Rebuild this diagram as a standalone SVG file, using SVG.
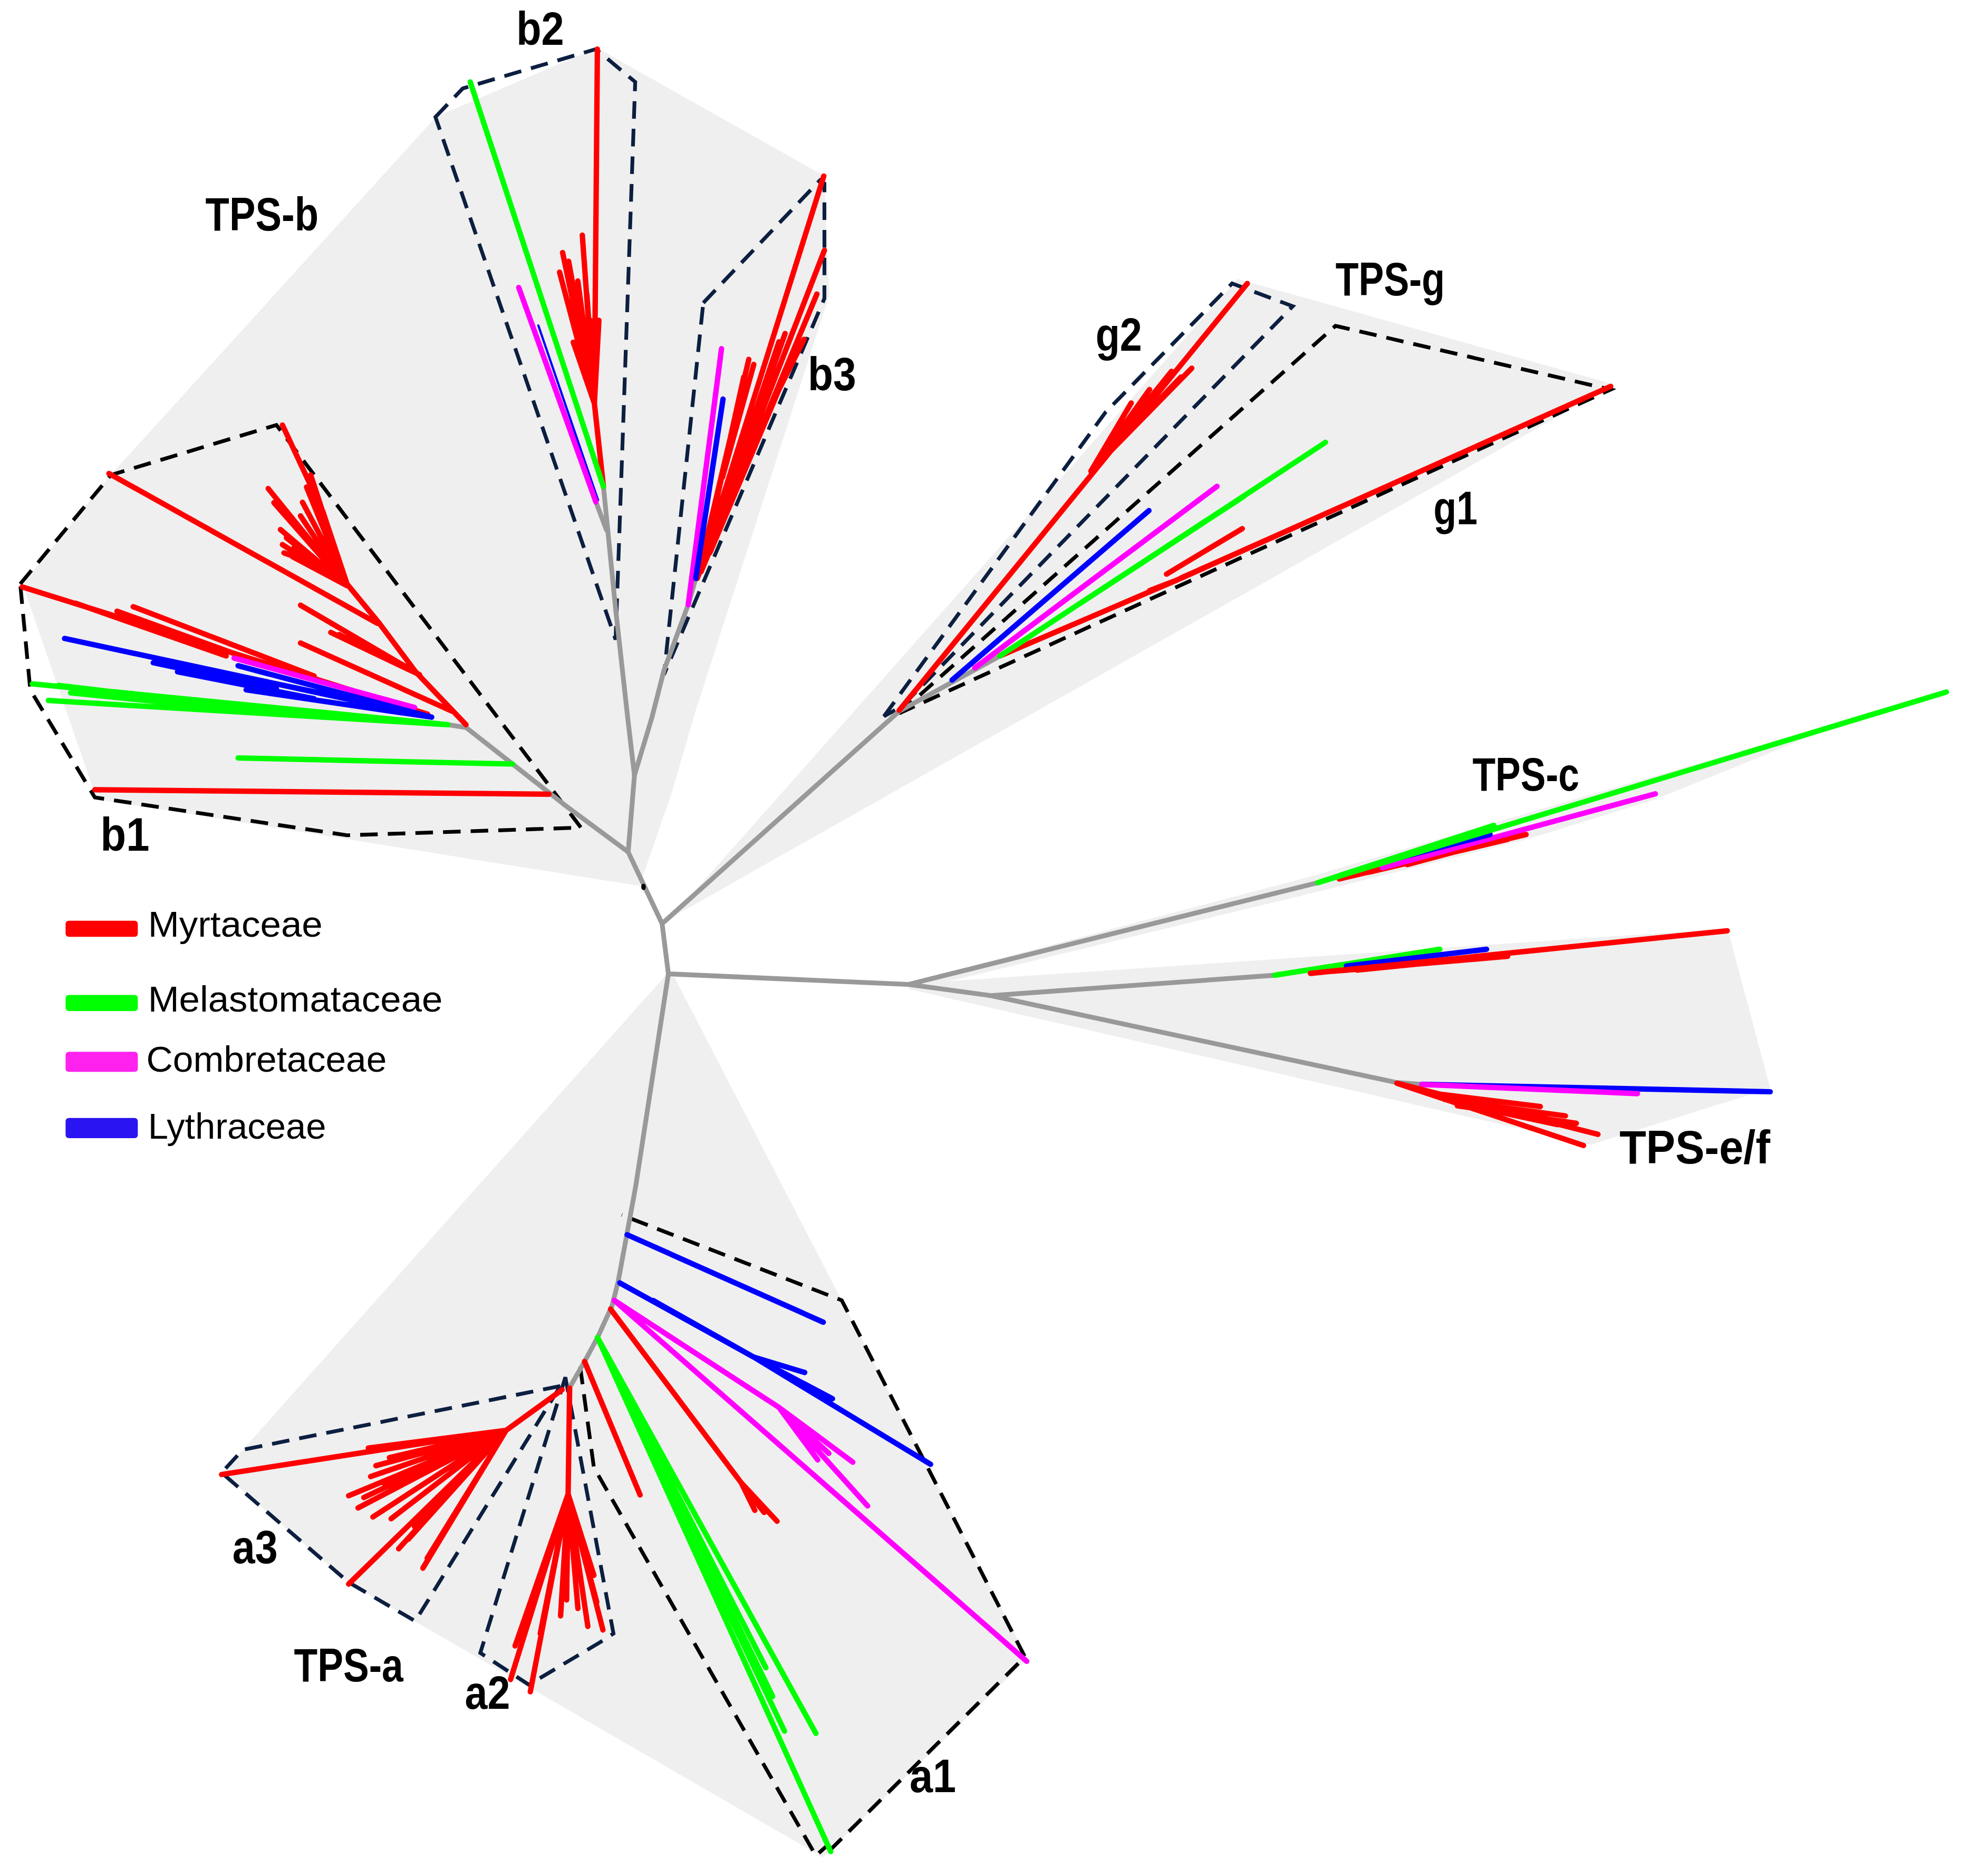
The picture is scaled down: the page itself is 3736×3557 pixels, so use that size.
<svg xmlns="http://www.w3.org/2000/svg" width="3736" height="3557" viewBox="0 0 3736 3557">
<style>
.sh{fill:#efefef;stroke:none}
.gy{stroke:#999999;stroke-width:3.8;fill:none;stroke-linecap:round;stroke-linejoin:round}
.r{stroke:#ff0000;stroke-width:4.3;fill:none;stroke-linecap:round;stroke-linejoin:round}
.gr{stroke:#00ff00;stroke-width:4.3;fill:none;stroke-linecap:round;stroke-linejoin:round}
.m{stroke:#ff00ff;stroke-width:4.3;fill:none;stroke-linecap:round;stroke-linejoin:round}
.bl{stroke:#0000ff;stroke-width:4.3;fill:none;stroke-linecap:round;stroke-linejoin:round}
.dk{stroke:#000000;stroke-width:3;fill:none;stroke-dasharray:14 8;stroke-linejoin:miter}
.dn{stroke:#0c1f40;stroke-width:3;fill:none;stroke-dasharray:14 8;stroke-linejoin:miter}
.lbl{font-family:"Liberation Sans",Arial,sans-serif;font-weight:bold;font-size:37px;fill:#000}
.leg{font-family:"Liberation Sans",Arial,sans-serif;font-size:29px;fill:#000}
</style>
<rect x="0" y="0" width="3736" height="3557" fill="#ffffff"/>
<g transform="scale(2.3826)">
<g id="shading">
<path class="sh" d="M509,705 L77,636 L18,465 L88,378 L347,93 L475,38 L656,140 L660,235 L552,571 L535,630 Z"/>
<path class="sh" d="M530,735 L985,222 L1285,306 L540,727 Z"/>
<path class="sh" d="M723,782 L1045,697 L1480,570 L1318,636 L1215,668 L1055,708 L726,788 Z"/>
<path class="sh" d="M723,783 L1375,739 L1409,866 L1266,911 L723,787 Z"/>
<path class="sh" d="M530,776 L537,778 L670,1035 L818,1320 L655,1478 L278,1260 L177,1172 Z"/>
</g>
<g id="clade-boxes">
<path id="box-b1" class="dk" d="M16.1,464.7 L88.3,378 L220,338.2 L462.4,658.6 L276.2,664.7 L75.5,634.6 L24.1,549 Z"/>
<path id="box-b2" class="dn" d="M346.6,93.1 L368.3,70.4 L474.3,39.1 L505.6,65.2 L490,509 Z"/>
<path id="box-b3" class="dn" d="M559.8,241 L652.6,143.5 L656.2,146 L656.2,237.5 L528.5,536.8 Z"/>
<path id="box-g2" class="dn" d="M703.6,570 L880,328 L980.7,225.6 L1029,243.7 L718,562 Z"/>
<path id="box-g1" class="dk" d="M715.7,567.7 L1063,259.3 L1282,310 Z"/>
<path id="box-a1" class="dk" d="M461.8,1087.7 L472.7,1167.8 L649.4,1476.8 L658,1469 M660,1473 L815.8,1318.5 L670,1034.8 L494.8,966.9"/>
<path id="box-a2" class="dn" d="M450,1096 L382.3,1315.4 L420.9,1340.7 L477.5,1307 L488.3,1300 Z"/>
<path id="box-a3" class="dn" d="M446,1103 L193.2,1153.7 L176.4,1172 L277.5,1259.2 L330.5,1290.1 Z"/>
</g>
<g id="connectors">
<path class="gy" d="M505,617 L500,678 L527,735 L532,775 M527,735 L715.7,566 M532,775 L723,783.4 M532,775 L506,944 L499.2,981 L492,1020 L487.2,1039 L475.6,1064.4 L465.3,1083.5 L453.5,1104"/>
<path class="gy" d="M356.5,576.7 L371,579 L408,608 L450,641 L500,678"/>
<path class="gy" d="M480.3,387.2 L490,484.6 L499.6,571 L505,617 M474.3,399.4 L482.8,422"/>
<path class="gy" d="M547.8,481.2 L528.5,533.4 L518.9,571 L505,617 M553.8,460.3 L547.8,481.2"/>
<path class="gy" d="M715.7,566 L796,522"/>
<path class="gy" d="M723,783.4 L1048.9,702.4 M723,783.4 L788.7,792.3 L1014.6,776.1 M788.7,792.3 L1111.8,861.5 L1131.8,862.9"/>
<ellipse cx="512.2" cy="705.8" rx="1.8" ry="2.6" fill="#000"/>
</g>
<g id="clade-b1">
<path class="r" d="M224.8,338.2 L256.9,406.9 L276.2,464.7 L301.9,496 L330.8,534.6 L370.9,576.7 M276,466 L213.5,388.8 M276,466 L223.2,421.4 M276,466 L224.8,433.4 M276,466 L232.8,443 M276,466 L239.2,410.5 M276,466 L240.8,399.7 M276,466 L244,387.6 M276,466 L247.3,378 M276,466 L228,428 M276,466 L236,420 M276,466 L218,400 M276,466 L230,412 M276,466 L250,395 M276,466 L234,436 M270,455 L226,440 M86.7,376.8 L300.3,496 M239.2,481.6 L334,537 M263.3,503.3 L334,537 M270,505 L320,530 M239.2,511.7 L359.7,565.9 M17.7,467.1 L340.4,568.3 M106,482.8 L250,538 M93.1,486.4 L200,525 M60,480 L180,522 M437,632 L75.5,628.5"/>
<path class="m" d="M186.3,523.7 L330,563"/>
<path class="bl" d="M51.4,508.1 L343.6,570.7 M189.5,529.8 L343.6,570.7 M195.9,549 L343.6,570.7 M122,527.4 L220,548 M141.3,534.6 L250,556 M200,540 L320,565"/>
<path class="gr" d="M25.7,544.2 L356.5,576.7 M38.5,557.4 L356.5,576.7 M46.6,545.4 L170,560 M56.2,551.4 L200,566 M70,552 L250,568 M408,608 L189.5,603.2"/>
</g>
<g id="clade-b2">
<path class="r" d="M475.5,39.1 L473.1,321 L480.3,387.2 M473.1,321 L445.4,216.6 M473.1,321 L447.8,201 M473.1,321 L463.5,187.1 M473.1,321 L452.6,207.9 M473.1,321 L459.9,223.6 M473.1,321 L456.3,272.3 M473.1,321 L476.7,254.9 M473.1,321 L467.1,234 M473.1,321 L470,255 M473.1,321 L462,260 M473.1,321 L455,240 M473.1,321 L466,285"/>
<path class="bl" style="stroke-width:1.8" d="M428.5,259 L476,398"/>
<path class="gr" d="M374.3,65.2 L480.3,387.2 M400.6,145 L420.3,205"/>
<path class="m" d="M412.9,228.8 L474.3,399.4"/>
</g>
<g id="clade-b3">
<path class="r" d="M655.7,140.1 L555,460.3 M656.2,199.2 L555,460.3 M650.2,234 L558,455 M596,286 L555,460.3 M624.9,265.4 L560,450 M634.5,275.8 L565,440 M592,300 L560,445 M620,272 L570,420 M600,290 L575,380 M640,270 L580,390"/>
<path class="m" d="M574.3,277.5 L547.8,481.2"/>
<path class="bl" d="M575.5,317.6 L553.8,460.3"/>
</g>
<g id="clade-g">
<path class="r" d="M715.7,565.3 L992.8,225.6 M868.3,375 L948.6,293 M868.3,375 L900.4,320.7 M868.3,375 L932.5,295.5 M868.3,375 L915,310 M868.3,375 L925,305 M868.3,375 L940,300"/>
<path class="r" d="M1282,307.5 L936.6,461.7 L796,521.9 M988.8,420.7 L928.5,456.9 M936.6,461.7 L915,470 M940,460 L1110,384.3"/>
<path class="gr" d="M1055,352 L796,521.9 M990,395 L860,480"/>
<path class="m" d="M968.7,387 L775.9,531.5"/>
<path class="bl" d="M914.5,406.3 L757.8,541.2"/>
</g>
<g id="clade-c">
<path class="r" d="M1066,699.5 L1214.7,664.1 M1090,694 L1200,668 M1120,688 L1180,672"/>
<path class="m" d="M1100.3,690.6 L1317.6,631.7"/>
<path class="bl" d="M1106,684.7 L1186,664.1"/>
<path class="gr" d="M1048.9,702.4 L1549.2,550.7 M1048.9,702.4 L1189,656.8"/>
</g>
<g id="clade-ef">
<path class="gr" d="M1014.6,776.1 L1146,755.4"/>
<path class="bl" d="M1071.7,768.7 L1183.2,755.4"/>
<path class="r" d="M1043,774.6 L1374.8,740.7 M1060,773 L1200,761 M1080,772 L1150,765"/>
<path class="bl" d="M1131.8,862.9 L1409,868.8"/>
<path class="m" d="M1131.8,863 L1303.3,870.3"/>
<path class="r" d="M1111.8,862 L1260.4,911.6 M1111.8,862 L1271.9,902.7 M1140,870 L1226,880.6 M1150,875 L1246,888 M1160,880 L1254.7,893.9 M1170,880 L1240,895 M1180,884 L1230,887"/>
</g>
<g id="clade-a1">
<path class="bl" d="M499.2,982.6 L655.3,1052.2 M493.3,1020.9 L600,1080 L640.5,1092.2 M600,1080 L662.6,1113.1 M600,1080 L740.7,1165.3 M520,1035 L600,1080"/>
<path class="m" d="M488.9,1034.8 L620,1120 L678.8,1163.6 M620,1120 L659.7,1156.6 M620,1120 L650.9,1161.8 M620,1120 L690.6,1198.4 M488.9,1034.8 L817.2,1322"/>
<path class="r" d="M486,1041.8 L590,1180 L618.5,1210.6 M590,1180 L600.8,1201.9 M590,1180 L608.2,1203.6 M465.3,1083.5 L509.5,1189.7"/>
<path class="gr" d="M475.6,1064.4 L661.2,1473.4 M475.6,1064.4 L649.4,1379.4 M475.6,1064.4 L609.6,1327.2 M475.6,1064.4 L624.4,1377.6 M475.6,1064.4 L615,1350"/>
</g>
<g id="clade-a2">
<path class="r" d="M453.4,1104.6 L452.2,1188.9 M452.2,1188.9 L406.4,1336.5 M452.2,1188.9 L422.1,1346.3 M452.2,1188.9 L451,1273.2 M452.2,1188.9 L446.2,1285.9 M452.2,1188.9 L472.7,1253.6 M452.2,1188.9 L479.9,1297.1 M452.2,1188.9 L467.9,1294.3 M452.2,1188.9 L410,1309.8 M452.2,1188.9 L430,1300 M452.2,1188.9 L418,1290 M452.2,1188.9 L475,1275 M452.2,1188.9 L460,1280"/>
</g>
<g id="clade-a3">
<path class="r" d="M447.4,1106 L402.8,1138.3 L176.4,1173.4 M402.8,1138.3 L293.2,1152.3 M402.8,1138.3 L277.5,1190.3 M402.8,1138.3 L296.8,1207.2 M402.8,1138.3 L311.3,1208.6 M402.8,1138.3 L317.3,1232.5 M402.8,1138.3 L336.6,1247.9 M402.8,1138.3 L277.5,1260.6 M402.8,1138.3 L299.2,1166.4 M402.8,1138.3 L289.6,1191.7 M402.8,1138.3 L305,1180 M402.8,1138.3 L325,1225 M402.8,1138.3 L340,1240 M402.8,1138.3 L310,1160 M402.8,1138.3 L285,1200 M402.8,1138.3 L330,1215 M402.8,1138.3 L295,1175"/>
</g>
<g id="labels">
<text class="lbl" x="411" y="35.7" textLength="38" lengthAdjust="spacingAndGlyphs">b2</text>
<text class="lbl" x="163.5" y="183.5" textLength="90" lengthAdjust="spacingAndGlyphs">TPS-b</text>
<text class="lbl" x="643" y="310.6" textLength="38.5" lengthAdjust="spacingAndGlyphs">b3</text>
<text class="lbl" x="1063" y="235" textLength="87" lengthAdjust="spacingAndGlyphs">TPS-g</text>
<text class="lbl" x="872" y="279" textLength="37" lengthAdjust="spacingAndGlyphs">g2</text>
<text class="lbl" x="1141" y="417" textLength="35" lengthAdjust="spacingAndGlyphs">g1</text>
<text class="lbl" x="80" y="677" textLength="39" lengthAdjust="spacingAndGlyphs">b1</text>
<text class="lbl" x="1172" y="629" textLength="85" lengthAdjust="spacingAndGlyphs">TPS-c</text>
<text class="lbl" x="1289" y="926" textLength="120" lengthAdjust="spacingAndGlyphs">TPS-e/f</text>
<text class="lbl" x="185" y="1244" textLength="36" lengthAdjust="spacingAndGlyphs">a3</text>
<text class="lbl" x="234" y="1338" textLength="87" lengthAdjust="spacingAndGlyphs">TPS-a</text>
<text class="lbl" x="370" y="1360" textLength="36" lengthAdjust="spacingAndGlyphs">a2</text>
<text class="lbl" x="724" y="1426" textLength="37" lengthAdjust="spacingAndGlyphs">a1</text>
</g>
<g id="legend">
<rect x="52.2" y="732.7" width="57.5" height="12.8" rx="2.5" fill="#ff0000"/>
<text class="leg" x="117.8" y="745.5" textLength="139" lengthAdjust="spacingAndGlyphs">Myrtaceae</text>
<rect x="52.2" y="791.8" width="57.5" height="12.8" rx="2.5" fill="#00ff00"/>
<text class="leg" x="117.8" y="804.9" textLength="234.5" lengthAdjust="spacingAndGlyphs">Melastomataceae</text>
<rect x="52.2" y="837" width="57.5" height="16" rx="2.5" fill="#ff22ee"/>
<text class="leg" x="116.5" y="853" textLength="191.3" lengthAdjust="spacingAndGlyphs">Combretaceae</text>
<rect x="52.2" y="889.7" width="57.5" height="16" rx="2.5" fill="#2b14f2"/>
<text class="leg" x="117.8" y="906" textLength="141.8" lengthAdjust="spacingAndGlyphs">Lythraceae</text>
</g>
</g>
</svg>
